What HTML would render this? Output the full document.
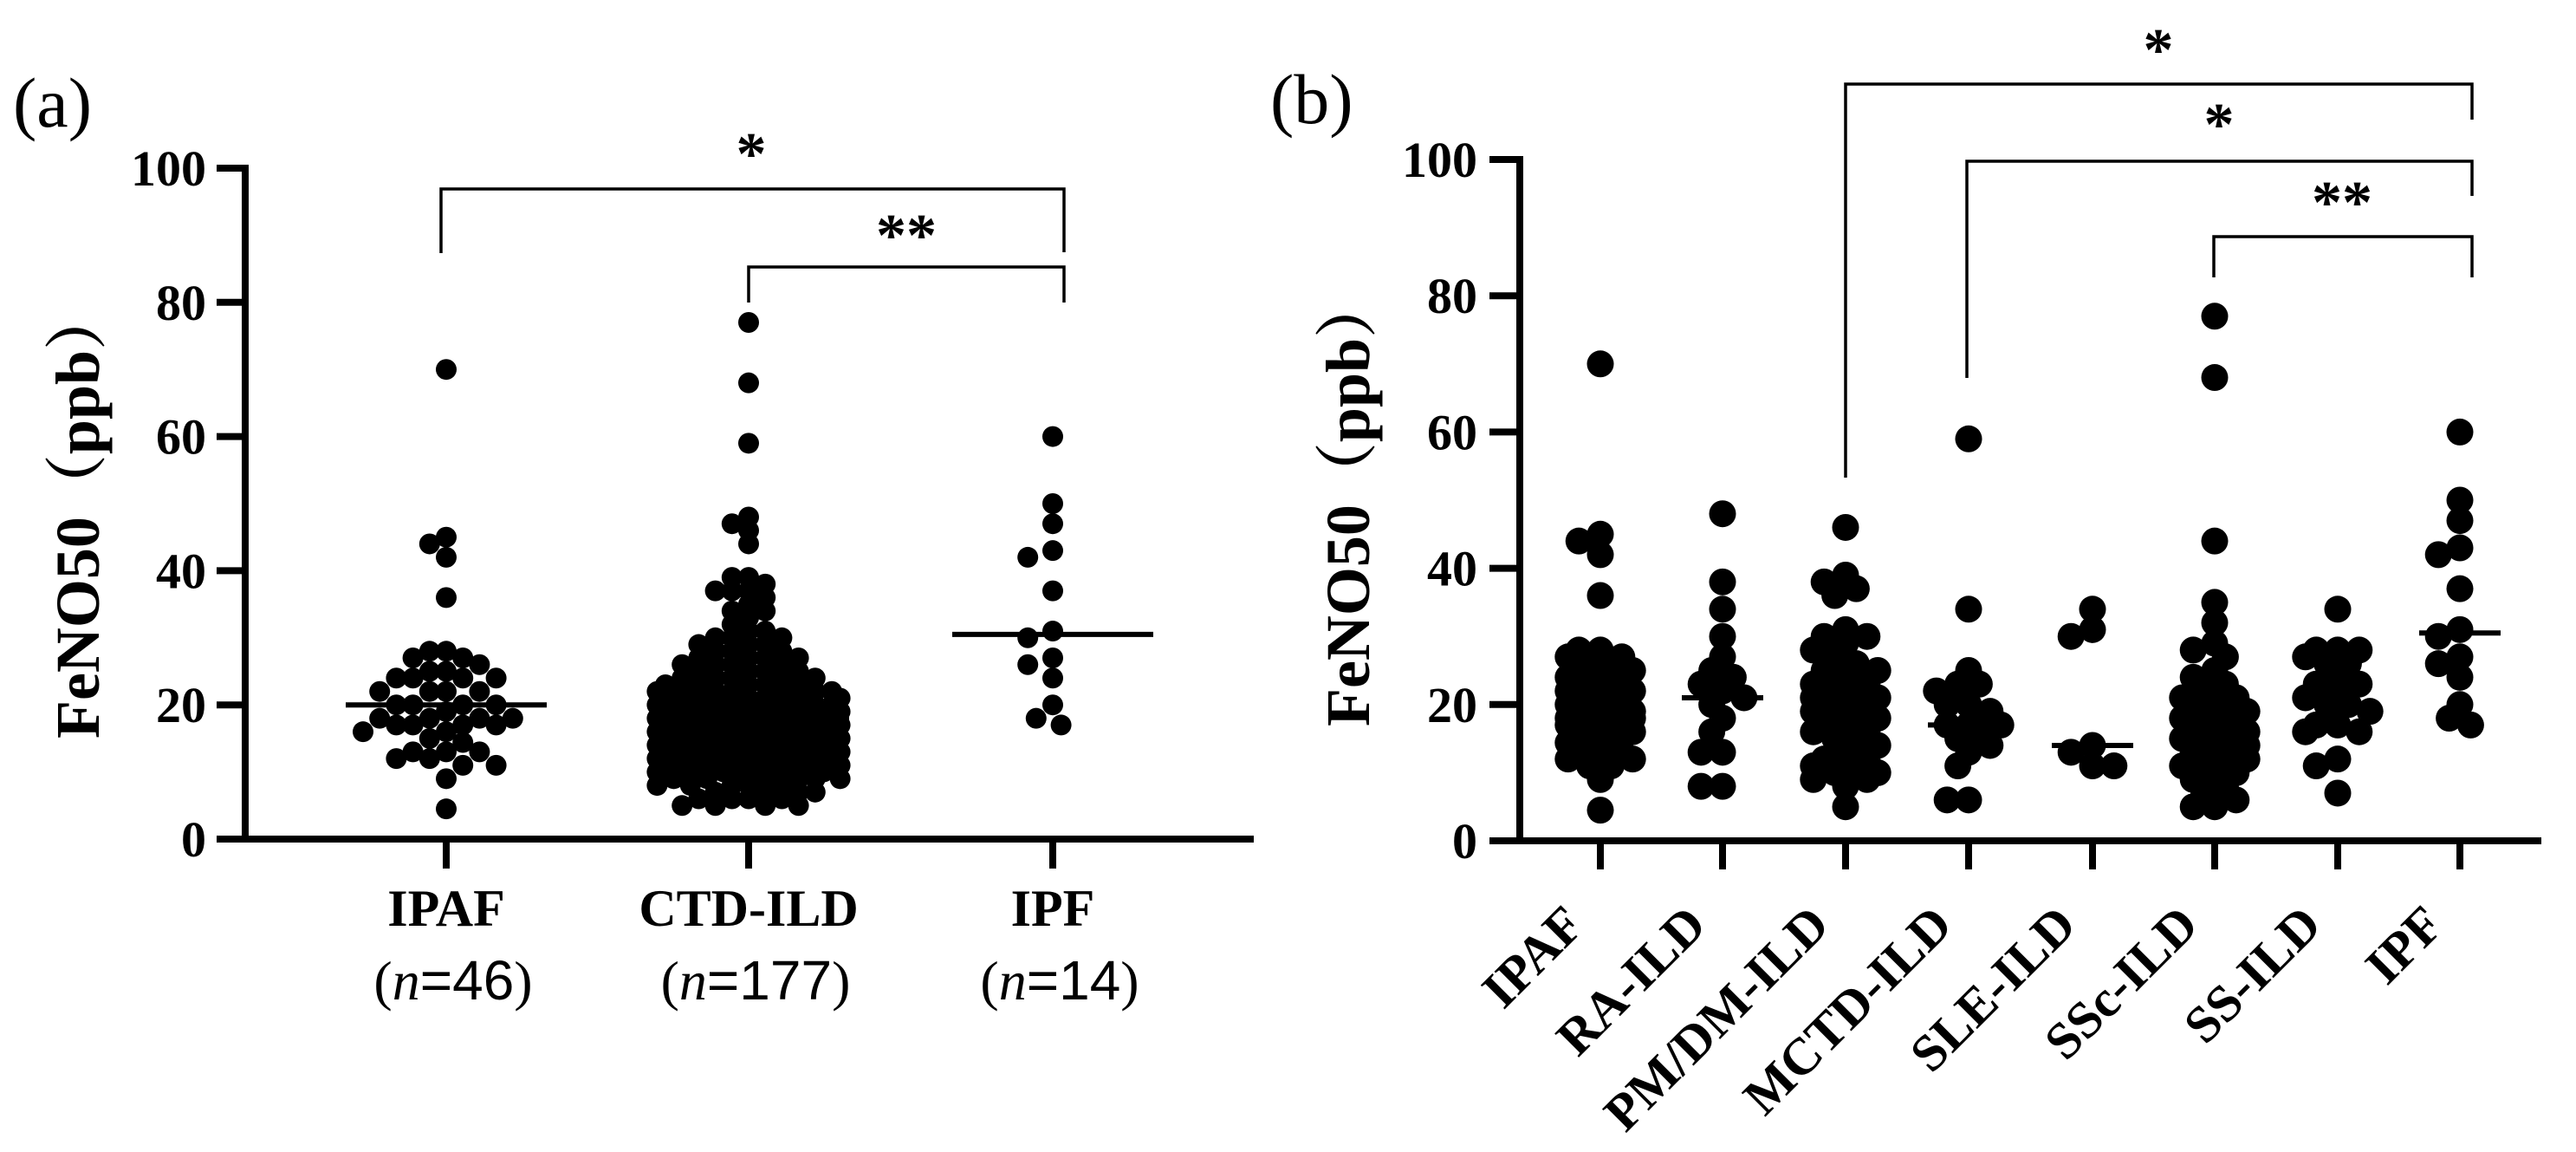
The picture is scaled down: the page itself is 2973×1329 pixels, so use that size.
<!DOCTYPE html>
<html><head><meta charset="utf-8">
<style>
html,body{margin:0;padding:0;background:#fff;}
svg{display:block;}
text{font-family:"Liberation Serif","Noto Serif CJK SC",serif;fill:#000;}
.b{font-weight:bold;}
</style></head>
<body>
<svg id="chart" width="2973" height="1329" viewBox="0 0 2973 1329" xmlns="http://www.w3.org/2000/svg">
<g id="pa"></g>
<g id="pb"></g>
</svg>
<script>
// ---------- data ----------
const yTicks = [0, 20, 40, 60, 80, 100];
const catsA = ["IPAF", "CTD-ILD", "IPF"];
const nLabelsA = ["46", "177", "14"];
const ipafVals = [70,45,44,42,36,28,28,27,27,26,25,25,24,24,24,24,22,22,22,22,20,20,20,20,19,18,18,18,18,17,17,17,17,16,16,15,14.4,13,13,13,12,12,11,11,9,4.5];
const ctdCounts = [[77,1],[68,1],[59,1],[48,1],[47,1],[46,1],[44,1],[39,2],[38,1],[37,3],[36,1],[35,1],[34,2],[33,1],[32,1],[31,2],[30,3],[29,3],[28,3],[27,4],[26,4],[25,4],[24,5],[23,5],[22,7],[21,7],[20,8],[19,8],[18,9],[17,9],[16,8],[15,8],[14,8],[13,8],[12,7],[11,8],[10,7],[9,6],[8,5],[7,4],[6,4],[5,4]];
const ipfVals = [60,50,47,43,42,37,31,30,27,26,24,20,18,17];
const catsB = ["IPAF","RA-ILD","PM/DM-ILD","MCTD-ILD","SLE-ILD","SSc-ILD","SS-ILD","IPF"];
const raVals = [48,38,34,30,27,25,24,23,22,21,20,18,16,13,13,8,8];
const pmVals = [46,39,38,37,36,31,30,30,29,28,27,26,25,25,24,23,23,22,22,21,21,20,20,19,19,19,18,18,17,17,16,16,15,15,14,13,12,12,11,11,10,10,10,9,9,8,5];
const mctdVals = [59,34,25,23,23,22,20,20,19,17,17,17,16,15,14,13,11,6,6];
const sleVals = [34,31,30,14,13,11,11];
const sscVals = [77,68,44,35,32,29,28,27,25,24,23,22,21,21,20,20,19,19,18,18,17,17,16,16,16,15,15,15,14,14,13,13,12,12,11,10,10,9,8,7,6,5,5];
const ssVals = [34,28,28,28,27,26,26,24,23,23,22,21,20,20,19,17,17,16,16,12,11,7];
const mediansA = [20, 18, 30.5];
const mediansB = [20, 21, 19, 17, 14, 16, 20, 30.5];

const NS = "http://www.w3.org/2000/svg";
function mk(parent, tag, attrs, txt){
  const e = document.createElementNS(NS, tag);
  for (const k in attrs) e.setAttribute(k, attrs[k]);
  if (txt !== undefined) e.textContent = txt;
  parent.appendChild(e);
  return e;
}
function expand(c){const r=[];c.forEach(p=>{for(let i=0;i<p[1];i++)r.push(p[0]);});return r;}
const ctdVals = expand(ctdCounts);

// beeswarm offsets (layout only)
function swarm(vals, yFn, d, maxHalf, fac){
  const pts = vals.map(v=>({v, y:yFn(v), x:0}));
  const order = pts.slice().sort((a,b)=>b.v-a.v);
  const placed=[]; const step=d*0.4; const md=d*fac;
  order.forEach(p=>{
    let best=0,bestScore=1e9;
    for(let k=0;k<=Math.ceil(maxHalf/step)*2;k++){
      const off = (k%2===0?1:-1)*Math.ceil(k/2)*step;
      if(Math.abs(off)>maxHalf) continue;
      let ov=0;
      placed.forEach(q=>{const dd=Math.hypot(q.x-off,q.y-p.y); if(dd<md) ov+= (md-dd);});
      const score = ov*10 + Math.abs(off)*0.01;
      if(ov===0){best=off;bestScore=0;break;}
      if(score<bestScore){bestScore=score;best=off;}
    }
    p.x=best; placed.push(p);
  });
  return pts;
}

// ---------- panel A ----------
(function(){
  const g = document.getElementById('pa');
  const X0=283, XE=1447, Y0=968, Y100=194;
  const y = v => Y0 - (Y0-Y100)*v/100;
  const xs = [515, 864, 1215];
  mk(g,'text',{x:15,y:146,'font-size':82,},'(a)');
  mk(g,'text',{transform:'translate(114,592) rotate(-90)','text-anchor':'middle','font-size':72,class:'b',},'FeNO50（ppb）');
  mk(g,'line',{x1:X0,y1:Y100-4,x2:X0,y2:Y0+4,stroke:'#000','stroke-width':8,});
  mk(g,'line',{x1:X0-4,y1:Y0,x2:XE,y2:Y0,stroke:'#000','stroke-width':8,});
  yTicks.forEach(t=>{
    const tk=mk(g,'line',{x1:250,y1:y(t),x2:X0,y2:y(t),stroke:'#000','stroke-width':8});
    
    
    const tl=mk(g,'text',{x:238,y:y(t)+20,'text-anchor':'end','font-size':58,class:'b'},String(t));
    
    
  });
  const groups=[ipafVals, ctdVals, ipfVals];
  const halfs=[125,115,60];
  const facs=[0.8,0.62,0.9];
  catsA.forEach((c,i)=>{
    const tk=mk(g,'line',{x1:xs[i],y1:Y0,x2:xs[i],y2:1002,stroke:'#000','stroke-width':8});
    
    
    const cl=mk(g,'text',{x:xs[i],y:1068,'text-anchor':'middle','font-size':60,class:'b'},c);
    
    
    const nl=mk(g,'text',{x:xs[i]+8,y:1153,'text-anchor':'middle','font-size':64});
    
    
    mk(nl,'tspan',{},'(');
    mk(nl,'tspan',{'font-style':'italic'},'n');
    mk(nl,'tspan',{'font-family':'Liberation Sans, sans-serif'},'='+nLabelsA[i]);
    mk(nl,'tspan',{},')');
    const pts=swarm(groups[i], y, 24, halfs[i], facs[i]);
    pts.forEach(p=>{
      const d=mk(g,'circle',{cx:xs[i]+p.x,cy:p.y,r:12,fill:'#000'});
      
      
    });
    const ml=mk(g,'line',{x1:xs[i]-116,y1:y(mediansA[i]),x2:xs[i]+116,y2:y(mediansA[i]),stroke:'#000','stroke-width':6});
    
    
  });
  mk(g,'path',{d:'M509 292 V218 H1228 V291',fill:'none',stroke:'#000','stroke-width':3.5,});
  mk(g,'path',{d:'M864 349 V308 H1228 V349',fill:'none',stroke:'#000','stroke-width':3.5,});
  mk(g,'text',{x:867,y:201,'text-anchor':'middle','font-size':70,class:'b',},'*');
  mk(g,'text',{x:1046,y:295,'text-anchor':'middle','font-size':70,class:'b',},'**');
})();

// ---------- panel B ----------
(function(){
  const g = document.getElementById('pb');
  const X0=1754, XE=2933, Y0=970, Y100=184;
  const y = v => Y0 - (Y0-Y100)*v/100;
  const xs=[1847,1988,2130,2272,2415,2556,2698,2839];
  mk(g,'text',{x:1466,y:142,'font-size':82,},'(b)');
  mk(g,'text',{transform:'translate(1580,578) rotate(-90)','text-anchor':'middle','font-size':72,class:'b',},'FeNO50（ppb）');
  mk(g,'line',{x1:X0,y1:Y100-4,x2:X0,y2:Y0+4,stroke:'#000','stroke-width':8,});
  mk(g,'line',{x1:X0-4,y1:Y0,x2:XE,y2:Y0,stroke:'#000','stroke-width':8,});
  yTicks.forEach(t=>{
    const tk=mk(g,'line',{x1:1719,y1:y(t),x2:X0,y2:y(t),stroke:'#000','stroke-width':8});
    
    
    const tl=mk(g,'text',{x:1705,y:y(t)+20,'text-anchor':'end','font-size':58,class:'b'},String(t));
    
    
  });
  const groups=[ipafVals,raVals,pmVals,mctdVals,sleVals,sscVals,ssVals,ipfVals];
  catsB.forEach((c,i)=>{
    const tk=mk(g,'line',{x1:xs[i],y1:Y0,x2:xs[i],y2:1003,stroke:'#000','stroke-width':8});
    
    
    const cl=mk(g,'text',{transform:`translate(${xs[i]-16},1070) rotate(-45)`,'text-anchor':'end','font-size':60,class:'b'},c);
    
    
    const pts=swarm(groups[i], y, 31, 48, 0.6);
    pts.forEach(p=>{
      const d=mk(g,'circle',{cx:xs[i]+p.x,cy:p.y,r:15.5,fill:'#000'});
      
      
    });
    const ml=mk(g,'line',{x1:xs[i]-47,y1:y(mediansB[i]),x2:xs[i]+47,y2:y(mediansB[i]),stroke:'#000','stroke-width':6});
    
    
  });
  mk(g,'path',{d:'M2130 551 V97 H2853 V138',fill:'none',stroke:'#000','stroke-width':3.5,});
  mk(g,'path',{d:'M2270 436 V186 H2853 V226',fill:'none',stroke:'#000','stroke-width':3.5,});
  mk(g,'path',{d:'M2555 320 V273 H2853 V320',fill:'none',stroke:'#000','stroke-width':3.5,});
  mk(g,'text',{x:2491,y:81,'text-anchor':'middle','font-size':70,class:'b',},'*');
  mk(g,'text',{x:2561,y:167,'text-anchor':'middle','font-size':70,class:'b',},'*');
  mk(g,'text',{x:2703,y:257,'text-anchor':'middle','font-size':70,class:'b',},'**');
})();
</script>
</body></html>
